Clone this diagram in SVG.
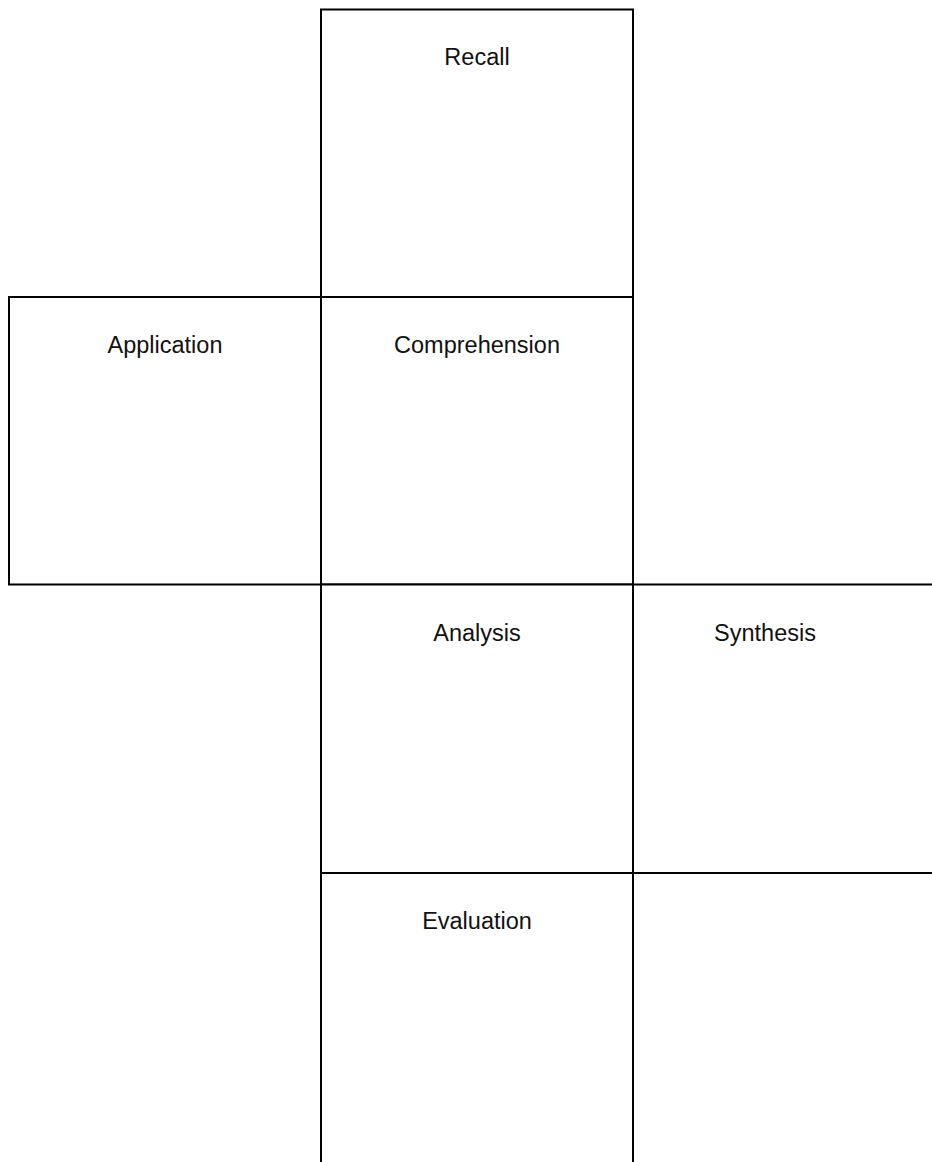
<svg xmlns="http://www.w3.org/2000/svg" width="932" height="1162" viewBox="0 0 932 1162">
  <style>
    .box { fill: #ffffff; stroke: #000000; stroke-width: 2; }
    .label { font-family: "Liberation Sans", Arial, sans-serif; font-size: 23.5px; fill: #111111; text-anchor: middle; }
  </style>
  <rect x="0" y="0" width="932" height="1162" fill="#ffffff"/>
  <g id="connectors"/>
  <g id="recall">
    <rect class="box" x="321" y="9.5" width="312" height="287.5"/>
    <text class="label" x="477" y="65">Recall</text>
  </g>
  <g id="application">
    <rect class="box" x="9" y="297" width="312" height="287.5"/>
    <text class="label" x="165" y="353">Application</text>
  </g>
  <g id="comprehension">
    <rect class="box" x="321" y="297" width="312" height="287.5"/>
    <text class="label" x="477" y="353">Comprehension</text>
  </g>
  <g id="analysis">
    <rect class="box" x="321" y="584.5" width="312" height="288.5"/>
    <text class="label" x="477" y="640.5">Analysis</text>
  </g>
  <g id="synthesis">
    <rect class="box" x="633" y="584.5" width="312" height="288.5"/>
    <text class="label" x="765" y="640.5">Synthesis</text>
  </g>
  <g id="evaluation">
    <rect class="box" x="321" y="873" width="312" height="300"/>
    <text class="label" x="477" y="929">Evaluation</text>
  </g>
  <g id="blank-cell">
    <rect class="box" x="633" y="873" width="312" height="300"/>
  </g>
</svg>
